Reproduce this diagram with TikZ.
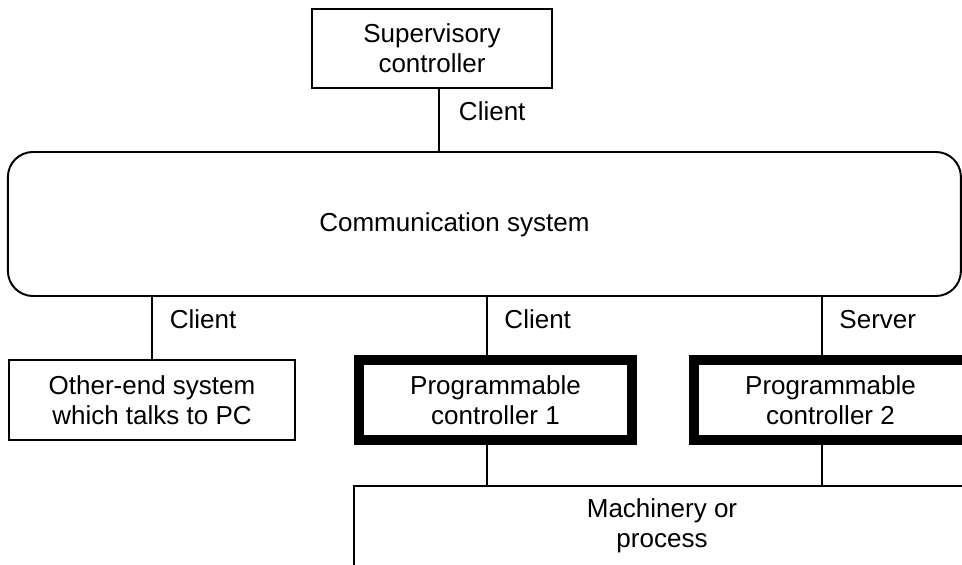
\documentclass[tikz,border=0pt]{standalone}
\usepackage{fontspec}
\setmainfont{Liberation Sans}
\usetikzlibrary{positioning}
\begin{document}
\begin{tikzpicture}[line width=1.4pt,font=\fontsize{18.5}{21.3}\selectfont,
   box/.style={draw,rectangle,align=center,minimum height=2cm,inner sep=0pt},
   plc/.style={box,line width=0.25cm,minimum width=6.825cm},
   lbl/.style={anchor=north west,inner sep=0pt}]
   \useasboundingbox (0,0) rectangle (24.05,14.125);
   \node [box,minimum width=6cm,minimum height=1.975cm] (sup) at (10.8,12.91) {Supervisory\\controller};
   \node [box,rounded corners=0.625cm,minimum width=23.825cm,minimum height=3.6cm] (comm) at (12.11,8.525) {};
   \node [anchor=base,inner sep=0pt] (commtext) at (11.36,8.325) {Communication system};
   \node [box,minimum width=7.15cm] (other) at (3.8,4.125) {Other-end system\\which talks to PC};
   \node [plc] (pc1) at (12.3875,4.125) {Programmable\\controller 1};
   \node [plc] (pc2) at (20.7625,4.125) {Programmable\\controller 2};
   \coordinate (mach) at (8.85,1.975);
   \coordinate (machbot) at (8.85,-0.3);
   \coordinate (machend) at (24.5,1.975);
   \node [align=center,inner sep=0pt] (machtext) at (16.55,0.98) {Machinery or\\process};
   \draw (machbot) -- (mach) -- (machend);
   \draw ([xshift=0.175cm]sup.south) -- node[lbl,pos=0,xshift=0.475cm,yshift=-0.3cm] {Client}
         ([xshift=0.175cm]sup.south |- comm.north);
   \draw (comm.south -| other.north) -- node[lbl,pos=0,xshift=0.42cm,yshift=-0.3cm] {Client} (other.north);
   \draw ([xshift=-0.22cm]pc1.north |- comm.south) -- node[lbl,pos=0,xshift=0.42cm,yshift=-0.3cm] {Client}
         ([xshift=-0.22cm]pc1.north);
   \draw ([xshift=-0.22cm]pc2.north |- comm.south) -- node[lbl,pos=0,xshift=0.42cm,yshift=-0.3cm] {Server}
         ([xshift=-0.22cm]pc2.north);
   \draw ([xshift=-0.22cm]pc1.south) -- ([xshift=-0.22cm]pc1.south |- mach);
   \draw ([xshift=-0.22cm]pc2.south) -- ([xshift=-0.22cm]pc2.south |- mach);
\end{tikzpicture}
\end{document}
